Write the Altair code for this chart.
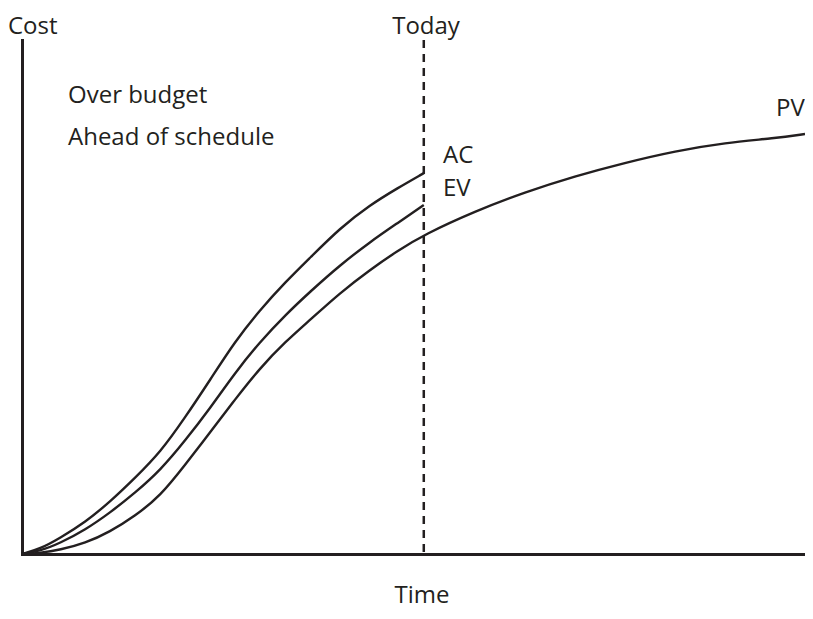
import altair as alt
import pandas as pd

# Time (0-100) and cost (0-100) readings
t_grid = [0, 2.3, 4.8, 8.0, 11.1, 14.3, 17.5, 20.6, 23.8, 26.9, 30.1, 33.3, 36.4, 40.2, 44.0, 47.5, 50.8]

ac_t = t_grid
ac_c = [0, 1.0, 3.1, 6.2, 10.1, 14.8, 19.8, 26.5, 33.9, 41.3, 47.5, 52.9, 57.6, 63.4, 67.9, 71.2, 74.1]

ev_t = t_grid
ev_c = [0, 0.6, 2.1, 4.7, 8.0, 11.9, 16.3, 22.0, 28.4, 35.2, 41.3, 46.5, 51.0, 56.2, 60.7, 64.4, 67.9]

pv_t = t_grid + [57.3, 63.6, 69.9, 76.2, 82.6, 88.9, 95.2, 99]
pv_c = [0, 0.2, 0.8, 2.1, 4.3, 7.4, 11.3, 17.3, 23.7, 30.0, 36.2, 41.3, 45.5, 50.8, 55.3, 59.0, 62.1,
        66.7, 70.4, 73.5, 76.1, 78.4, 80.0, 80.9, 81.7]

today_t = [50.8]

series = []
for name, ts, cs in [("AC", ac_t, ac_c), ("EV", ev_t, ev_c), ("PV", pv_t, pv_c)]:
    for i, (t, c) in enumerate(zip(ts, cs)):
        series.append({"series": name, "t": t, "c": c, "order": i})
df = pd.DataFrame(series)

INK = "#231f20"
FONT = "Open Sans"
FS = 24

xscale = alt.Scale(domain=[0, 99], nice=False, zero=False)
yscale = alt.Scale(domain=[0, 100], nice=False, zero=False)

axis_common = dict(
    domainColor=INK, domainWidth=3, domainCap="square",
    ticks=False, labels=False, grid=False, title=None,
)

lines = alt.Chart(df).mark_line(
    interpolate="basis", color=INK, strokeWidth=2.4
).encode(
    x=alt.X("t:Q", scale=xscale, axis=alt.Axis(**axis_common)),
    y=alt.Y("c:Q", scale=yscale, axis=alt.Axis(**axis_common)),
    detail="series:N",
    order="order:Q",
)

today = alt.Chart(pd.DataFrame({"t": today_t})).mark_rule(
    color=INK, strokeWidth=2.5, strokeDash=[8, 6]
).encode(x=alt.X("t:Q", scale=xscale))

labels_df = pd.DataFrame({
    "text": ["Cost", "Today", "Over budget", "Ahead of schedule", "AC", "EV", "PV", "Time"],
    "px": [-14, 404, 46, 46, 421, 421, 754, 400],
    "py": [-6, -6, 63, 105, 123, 156, 76, 563],
    "align": ["left", "center", "left", "left", "left", "left", "left", "center"],
})

def txt(row):
    return alt.Chart(pd.DataFrame({"text": [row["text"]]})).mark_text(
        font=FONT, fontSize=FS, color=INK, align=row["align"], baseline="alphabetic"
    ).encode(
        text="text:N",
        x=alt.value(row["px"]),
        y=alt.value(row["py"]),
    )

texts = [txt(r) for _, r in labels_df.iterrows()]

chart = alt.layer(lines, today, *texts).properties(
    width=783, height=514,
    padding={"left": 14, "top": 32, "right": 0, "bottom": 57},
    autosize=alt.AutoSizeParams(type="none"),
    background="white",
).configure_view(stroke=None)

chart.save("out.html", embed_options={"renderer": "svg", "actions": False})
